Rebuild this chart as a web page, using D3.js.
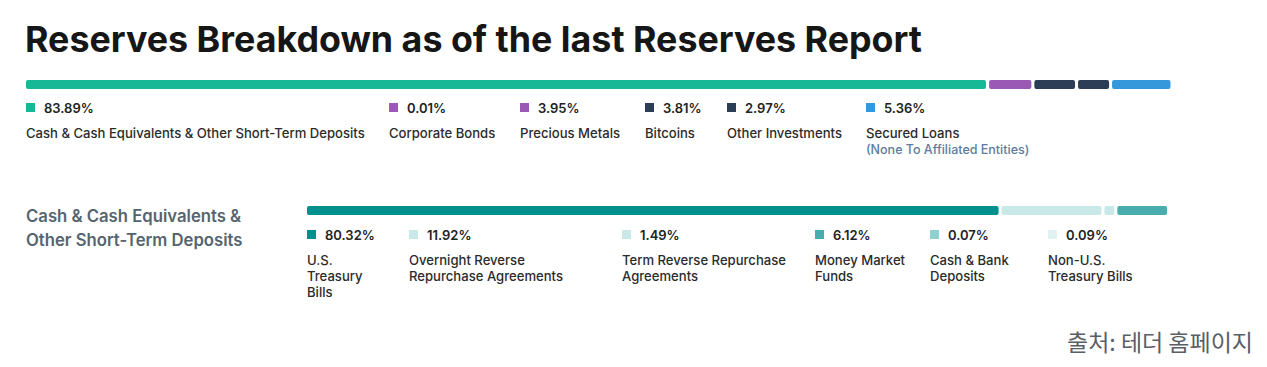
<!DOCTYPE html>
<html>
<head>
<meta charset="utf-8">
<script src="https://cdn.jsdelivr.net/npm/d3@7"></script>
<style>
  body { margin: 0; background: #fff; }
  svg { display: block; font-family: Inter, "Noto Sans", sans-serif; }
</style>
</head>
<body>
<div id="chart"></div>
<script>
// top breakdown
const topLabels = [
    ["Cash & Cash Equivalents & Other Short-Term Deposits"],
    ["Corporate Bonds"],
    ["Precious Metals"],
    ["Bitcoins"],
    ["Other Investments"],
    ["Secured Loans"]
];
const topValues = [83.89, 0.01, 3.95, 3.81, 2.97, 5.36];
const topColors = ["#16b896", "#9b59b6", "#9b59b6", "#2c3e55", "#2c3e55", "#3498db"];

// cash & equivalents breakdown
const subLabels = [
    ["U.S.", "Treasury", "Bills"],
    ["Overnight Reverse", "Repurchase Agreements"],
    ["Term Reverse Repurchase", "Agreements"],
    ["Money Market", "Funds"],
    ["Cash & Bank", "Deposits"],
    ["Non-U.S.", "Treasury Bills"]
];
const subValues = [80.32, 11.92, 1.49, 6.12, 0.07, 0.09];
const subColors = ["#00918e", "#c9e8e8", "#c9e8e8", "#4aadad", "#8fd0d0", "#e2f2f2"];

// legend layout (x of each item)
const topLegendX = [26, 389, 520, 645, 727, 866];
const subLegendX = [307, 409, 622, 815, 930, 1048];

const width = 1267, height = 367;

const svg = d3.select("#chart").append("svg")
    .attr("width", width)
    .attr("height", height);

// Title
svg.append("text")
    .attr("x", 25)
    .attr("y", 52)
    .attr("font-size", 35.8)
    .attr("font-weight", 700)
    .attr("fill", "#161616")
    .text("Reserves Breakdown as of the last Reserves Report");

function drawBar(values, colors, x0, x1, y, h) {
    const x = d3.scaleLinear().domain([0, d3.sum(values)]).range([x0, x1]);
    const starts = d3.cumsum([0].concat(values));
    const g = svg.append("g");
    g.selectAll("rect")
        .data(values)
        .enter().append("rect")
        .attr("x", (d, i) => x(starts[i]) + (i > 0 ? 1.5 : 0))
        .attr("y", y)
        .attr("width", (d, i) => Math.max(0, x(starts[i] + d) - x(starts[i]) - (i > 0 ? 3 : 1.5)))
        .attr("height", h)
        .attr("rx", 2)
        .style("fill", (d, i) => colors[i]);
}

function drawLegend(values, labels, colors, xs, y, lineH) {
    const items = svg.append("g").selectAll("g")
        .data(values)
        .enter().append("g")
        .attr("transform", (d, i) => "translate(" + xs[i] + "," + y + ")");

    items.append("rect")
        .attr("x", 0)
        .attr("y", -10)
        .attr("width", 9)
        .attr("height", 9)
        .style("fill", (d, i) => colors[i]);

    items.append("text")
        .attr("x", 18)
        .attr("y", 0)
        .attr("font-size", 13)
        .attr("font-weight", 600)
        .attr("fill", "#222")
        .text(d => d.toFixed(2) + "%");

    items.each(function (d, i) {
        const t = d3.select(this);
        labels[i].forEach((line, j) => {
            t.append("text")
                .attr("x", 0)
                .attr("y", 25 + j * lineH)
                .attr("font-size", 13.1)
                .attr("font-weight", 500)
                .attr("fill", "#2b2b2b")
                .text(line);
        });
    });
    return items;
}

drawBar(topValues, topColors, 26, 1172, 80, 9);
drawLegend(topValues, topLabels, topColors, topLegendX, 113, 16);

// secured loans note
svg.append("text")
    .attr("x", topLegendX[5])
    .attr("y", 154)
    .attr("font-size", 12.5)
    .attr("font-weight", 500)
    .attr("fill", "#5d7c9b")
    .text("(None To Affiliated Entities)");

// sub breakdown title
const subTitle = ["Cash & Cash Equivalents &", "Other Short-Term Deposits"];
svg.append("g").selectAll("text")
    .data(subTitle)
    .enter().append("text")
    .attr("x", 26)
    .attr("y", (d, i) => 222 + i * 24)
    .attr("font-size", 16.7)
    .attr("font-weight", 600)
    .attr("fill", "#56646f")
    .text(d => d);

drawBar(subValues, subColors, 307, 1170, 206, 9);
drawLegend(subValues, subLabels, subColors, subLegendX, 240, 16);

// source
svg.append("text")
    .attr("x", 1253)
    .attr("y", 351)
    .attr("text-anchor", "end")
    .attr("font-family", "'Noto Sans CJK KR', sans-serif")
    .attr("font-size", 23)
    .attr("fill", "#5a5f66")
    .text("출처: 테더 홈페이지");
</script>
</body>
</html>
